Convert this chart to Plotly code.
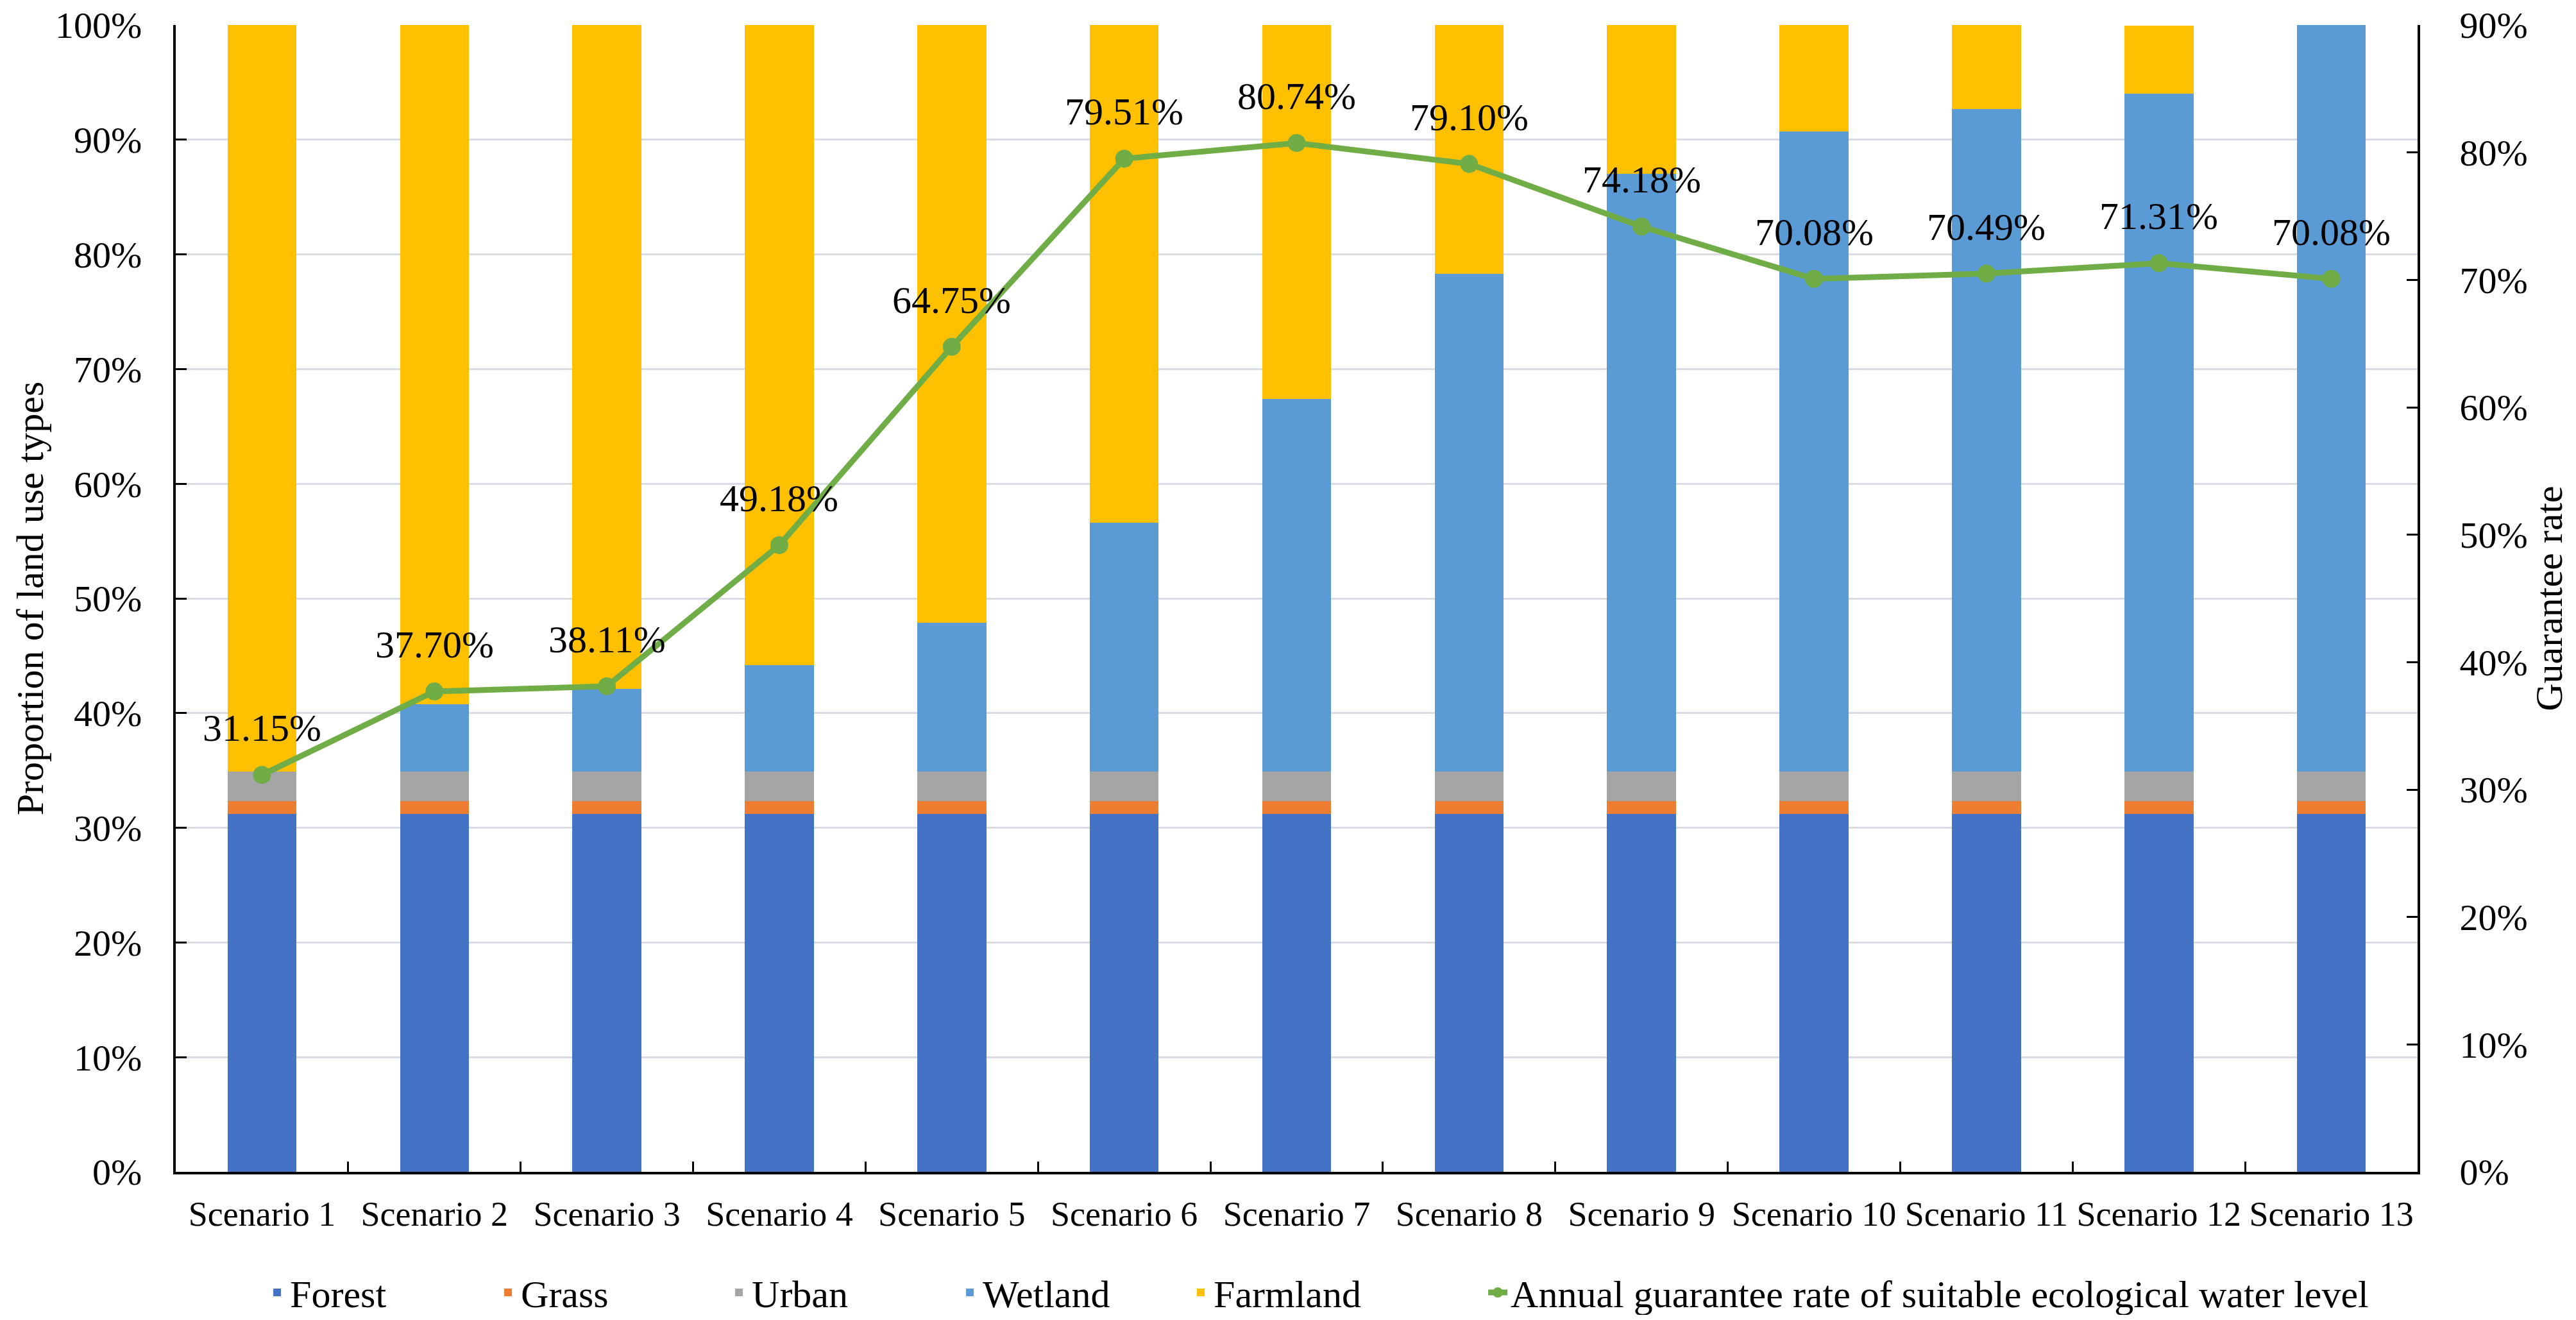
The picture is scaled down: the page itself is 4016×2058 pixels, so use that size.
import numpy as np
import plotly.graph_objects as go

# ---------------- data ----------------
scenarios = [f"Scenario {i}" for i in range(1, 14)]
forest   = [31.2] * 13
grass    = [1.15] * 13
urban    = [2.55] * 13
wetland  = [0.0, 5.9, 7.2, 9.3, 13.0, 21.7, 32.5, 43.4, 52.1, 55.8, 57.8, 59.1, 65.1]
farmland = [65.1, 59.2, 57.9, 55.8, 52.1, 43.4, 32.6, 21.7, 13.0, 9.3, 7.3, 5.95, 0.0]
guarantee_rate = [31.15, 37.70, 38.11, 49.18, 64.75, 79.51, 80.74, 79.10,
                  74.18, 70.08, 70.49, 71.31, 70.08]

left_ticks = [0, 10, 20, 30, 40, 50, 60, 70, 80, 90, 100]
right_ticks = [0, 10, 20, 30, 40, 50, 60, 70, 80, 90]

series = [
    ("Forest", forest, "#4472C4"),
    ("Grass", grass, "#ED7D31"),
    ("Urban", urban, "#A5A5A5"),
    ("Wetland", wetland, "#5B9BD5"),
    ("Farmland", farmland, "#FFC000"),
]
line_name = "Annual guarantee rate of suitable ecological water level"
line_color = "#70AD47"

FONT = "Liberation Serif, Times New Roman, serif"

fig = go.Figure()
for name, vals, color in series:
    fig.add_trace(go.Bar(
        x=scenarios, y=np.array(vals) / 100.0, name=name,
        marker=dict(color=color, line=dict(width=0)),
        legend="legend",
    ))

fig.add_trace(go.Scatter(
    x=scenarios, y=np.array(guarantee_rate) / 100.0, name=line_name,
    yaxis="y2", mode="lines+markers",
    line=dict(color=line_color, width=9),
    marker=dict(color=line_color, size=28),
    legend="legend2",
))

annotations = []
for s, r in zip(scenarios, guarantee_rate):
    annotations.append(dict(
        x=s, y=r / 100.0, xref="x", yref="y2", text=f"{r:.2f}%",
        showarrow=False, yanchor="bottom", yshift=38,
        font=dict(family=FONT, size=60, color="black"),
    ))

axis_common = dict(
    showline=True, linecolor="black", linewidth=4,
    ticks="inside", tickcolor="black", tickwidth=3,
    zeroline=False, automargin=False, ticklabeloverflow="allow",
)

fig.update_layout(
    width=4000, height=2042,
    margin=dict(l=266, r=239, t=31, b=223),
    paper_bgcolor="white", plot_bgcolor="white",
    font=dict(family=FONT, color="black", size=58),
    barmode="stack", bargap=0.6,
    annotations=annotations,
    xaxis=dict(
        type="category", range=[-0.5, len(scenarios) - 0.5],
        tickson="boundaries", showgrid=False,
        tickangle=0, tickfont=dict(size=54), ticklabelstandoff=15,
        ticklen=16, **axis_common,
    ),
    yaxis=dict(
        range=[0, 1], tickvals=[t / 100 for t in left_ticks],
        ticktext=[f"{t}%" for t in left_ticks],
        showgrid=True, gridcolor="#D9DCE4", gridwidth=3,
        tickfont=dict(size=58), ticklabelstandoff=37, ticklen=17,
        title=dict(text="Proportion of land use types", font=dict(size=60), standoff=0),
        **axis_common,
    ),
    yaxis2=dict(
        overlaying="y", side="right", range=[0, 0.9],
        tickvals=[t / 100 for t in right_ticks],
        ticktext=[f"{t}%" for t in right_ticks],
        showgrid=False,
        tickfont=dict(size=58), ticklabelstandoff=50, ticklen=17,
        title=dict(text="Guarantee rate", font=dict(size=60), standoff=4),
        **axis_common,
    ),
    legend=dict(
        orientation="h", x=0.0395, xanchor="left",
        yref="container", y=0.0171, yanchor="middle",
        traceorder="normal", entrywidth=315, entrywidthmode="pixels",
        font=dict(family=FONT, size=60), bgcolor="rgba(0,0,0,0)",
    ),
    legend2=dict(
        orientation="h", x=0.5840, xanchor="left",
        yref="container", y=0.0171, yanchor="middle",
        font=dict(family=FONT, size=60), bgcolor="rgba(0,0,0,0)",
    ),
)

fig.write_html("out.html")
